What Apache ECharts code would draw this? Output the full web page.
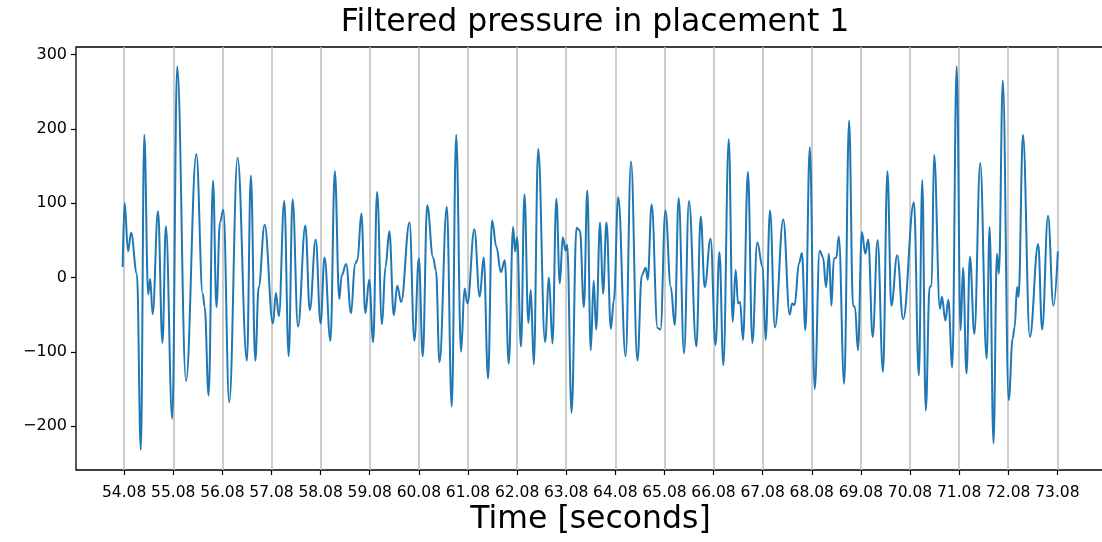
<!DOCTYPE html>
<html>
<head>
<meta charset="utf-8">
<script src="https://cdn.jsdelivr.net/npm/echarts@6/dist/echarts.min.js"></script>
<style>
  html, body { margin: 0; padding: 0; background: #fff; }
  #chart { width: 1102px; height: 542px; }
</style>
</head>
<body>
<div id="chart"></div>
<script>
// time stamps (s) and filtered pressure (turning points of the trace)
var times = [
  54.05, 54.09, 54.16, 54.22, 54.34, 54.42, 54.49, 54.57, 54.61, 54.66, 54.77, 54.86, 54.93, 55.06, 55.16, 55.34,
  55.55, 55.68, 55.72, 55.80, 55.89, 55.96, 56.03, 56.10, 56.22, 56.39, 56.58, 56.66, 56.75, 56.82, 56.94,
  57.11, 57.17, 57.23, 57.34, 57.43, 57.51, 57.62, 57.77, 57.86, 57.98, 58.08, 58.16, 58.28, 58.37, 58.46, 58.51, 58.60,
  58.70, 58.78, 58.83, 58.91, 58.99, 59.07, 59.15, 59.23, 59.33, 59.40, 59.48, 59.57, 59.64, 59.72, 59.89, 59.99, 60.08, 60.16, 60.25,
  60.37, 60.43, 60.50, 60.65, 60.75, 60.84, 60.94, 61.01, 61.07, 61.21, 61.32, 61.40, 61.49, 61.57, 61.66, 61.75, 61.83, 61.91,
  62.00, 62.04, 62.08, 62.16, 62.23, 62.31, 62.36, 62.42, 62.51, 62.65, 62.73, 62.80, 62.88, 62.95, 63.01, 63.07, 63.10, 63.19, 63.29, 63.36, 63.44, 63.51,
  63.58, 63.64, 63.69, 63.77, 63.83, 63.90, 63.99, 64.05, 64.14, 64.29, 64.40, 64.53, 64.62, 64.70, 64.74, 64.82, 64.94, 65.00, 65.10,
  65.21, 65.29, 65.37, 65.48, 65.58, 65.73, 65.82, 65.90, 66.02, 66.12, 66.20, 66.28, 66.39, 66.47, 66.53, 66.58, 66.62, 66.68, 66.78,
  66.87, 66.97, 67.08, 67.14, 67.23, 67.33, 67.50, 67.63, 67.68, 67.73, 67.82, 67.88, 67.95, 68.04, 68.14, 68.24, 68.31, 68.37, 68.43,
  68.48, 68.53, 68.58, 68.63, 68.74, 68.84, 68.92, 68.96, 69.02, 69.10, 69.17, 69.23, 69.32, 69.42, 69.53, 69.62, 69.70, 69.82, 69.94,
  70.16, 70.26, 70.33, 70.40, 70.48, 70.52, 70.57, 70.69, 70.73, 70.80, 70.86, 70.94, 71.03, 71.11, 71.16, 71.23, 71.30, 71.39, 71.51, 71.64, 71.70,
  71.78, 71.85, 71.89, 71.97, 72.09, 72.17, 72.21, 72.26, 72.29, 72.38, 72.52, 72.69, 72.77, 72.89, 73.00, 73.09
];
var pressure = [
  14, 100, 35, 60, 5, -232, 192, -23, -2, -49, 89, -88, 69, -190, 284, -139,
  166, -22, -40, -159, 130, -40, 74, 91, -168, 161, -112, 137, -112, -13, 71,
  -62, -21, -52, 103, -106, 105, -66, 70, -44, 51, -62, 27, -85, 143, -29, 3, 18,
  -48, 18, 23, 86, -48, -3, -87, 115, -63, 14, 62, -51, -11, -33, 74, -85, 26, -106, 97,
  27, 9, -114, 95, -174, 192, -100, -15, -35, 65, -26, 27, -136, 77, 41, 7, 23, -116,
  68, 35, 54, -93, 112, -61, -17, -117, 173, -87, 0, -89, 106, -8, 54, 36, 44, -182, 67, 63, -40, 117,
  -98, -4, -70, 74, -22, 74, -69, -31, 108, -106, 156, -112, 3, 13, -3, 98, -68, -70, 90,
  -13, -64, 107, -102, 103, -93, 82, -13, 52, -91, 34, -118, 186, -60, 10, -35, -33, -84, 142,
  -88, 47, 14, -84, 90, -67, 78, -50, -35, -37, 19, 33, -71, 175, -150, 36, 27, -13, 32,
  -38, 25, 27, 55, -143, 211, -38, -40, -98, 61, 32, 51, -80, 50, -127, 143, -38, 30, -56,
  101, -132, 131, -179, -13, -11, 165, -42, -26, -58, -30, -121, 284, -71, 13, -129, 28, -76, 154, -109, 68,
  -223, 32, 5, 265, -165, -82, -67, -13, -26, 192, -80, 45, -70, 83, -38, 35
];
var xTicks = [54.08, 55.08, 56.08, 57.08, 58.08, 59.08, 60.08, 61.08, 62.08, 63.08,
              64.08, 65.08, 66.08, 67.08, 68.08, 69.08, 70.08, 71.08, 72.08, 73.08];
var yTicks = [-200, -100, 0, 100, 200, 300];

var points = times.map(function (t, i) { return [t, pressure[i]]; });

var chart = echarts.init(document.getElementById('chart'));
var font = 'DejaVu Sans';

var option = {
  animation: false,
  title: {
    text: 'Filtered pressure in placement 1',
    left: 590,
    top: 2,
    textAlign: 'center',
    textStyle: { fontFamily: font, fontSize: 31.5, fontWeight: 'normal', color: '#000' }
  },
  grid: {
    left: 76, top: 47, right: -3, bottom: 72,
    outerBoundsMode: 'none',
    containLabel: false,
    show: true, borderColor: '#000', borderWidth: 1.3, backgroundColor: 'transparent'
  },
  xAxis: {
    type: 'value',
    min: 53.1,
    max: 74.05,
    name: 'Time [seconds]',
    nameLocation: 'middle',
    nameGap: 34,
    nameMoveOverlap: false,
    nameTextStyle: { fontFamily: font, fontSize: 31.5, color: '#000', verticalAlign: 'top' },
    axisLine: { show: false, onZero: false },
    axisTick: { show: true, customValues: xTicks, length: 5, lineStyle: { color: '#000', width: 1.2 } },
    axisLabel: {
      customValues: xTicks, margin: 15,
      fontFamily: font, fontSize: 15.5, color: '#000',
      formatter: function (v) { return v.toFixed(2); }
    },
    splitLine: { show: true, lineStyle: { color: '#bdbdbd', width: 1.5 } }
  },
  yAxis: {
    type: 'value',
    min: -259,
    max: 310,
    axisLine: { show: false, onZero: false },
    axisTick: { show: true, customValues: yTicks, length: 5, lineStyle: { color: '#000', width: 1.2 } },
    axisLabel: {
      customValues: yTicks, margin: 9,
      fontFamily: font, fontSize: 16, color: '#000',
      formatter: function (v) { return v < 0 ? '\u2212' + Math.abs(v) : String(v); }
    },
    splitLine: { show: false }
  },
  series: [{
    type: 'line',
    data: points,
    showSymbol: false,
    smooth: 0.4,
    smoothMonotone: 'x',
    lineStyle: { color: '#1f77b4', width: 2 }
  }]
};
chart.setOption(option);
</script>
</body>
</html>
